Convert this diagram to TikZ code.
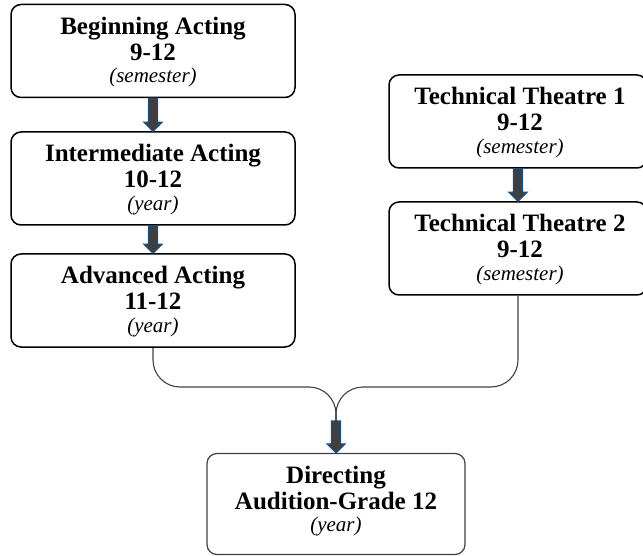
\documentclass[tikz,border=0pt]{standalone}
\usepackage{fontspec}
\setmainfont{Liberation Serif}
\usetikzlibrary{calc}
\definecolor{darkline}{HTML}{404040}
\definecolor{arrfill}{HTML}{3F3F3F}
\definecolor{arrline}{HTML}{1F4E79}
\tikzset{
  box/.style={draw=black, line width=1.5pt, rounded corners=10pt, minimum width=284pt, minimum height=93pt, inner sep=0pt, fill=white},
  lbl/.style={anchor=north, inner sep=0pt, align=center, font=\fontsize{25}{26}\selectfont\bfseries},
  link/.style={draw=darkline, line width=1.1pt, rounded corners=27pt},
  blockarr/.style={fill=arrfill, draw=arrline, line width=1.2pt, line join=miter},
}
\newcommand{\blockarrow}[2]{%
  \draw[blockarr] ($(#1)+(-4.5,0)$) -- ($(#2)+(-4.5,-9)$) -- ($(#2)+(-9,-9)$) -- (#2) -- ($(#2)+(9,-9)$) -- ($(#2)+(4.5,-9)$) -- ($(#1)+(4.5,0)$) -- cycle;}
\newcommand{\sub}[1]{{\mdseries\itshape\fontsize{21}{22}\selectfont #1}}
\begin{document}
\begin{tikzpicture}[x=1pt,y=-1pt]
\path[use as bounding box] (0,0) rectangle (643,556);
\clip (0,0) rectangle (643,556);
\node[box] (b1) at (153,51) {};
\node[box] (b2) at (153,178.5) {};
\node[box] (b3) at (153,300.5) {};
\node[box, minimum width=258pt] (b4) at (518,121.5) {};
\node[box, minimum width=258pt] (b5) at (518,248.5) {};
\node[box, draw=darkline, line width=1.2pt, minimum width=258pt, minimum height=101pt] (b6) at (336,504) {};

\node[lbl] (t1) at ($(b1.north)+(0,13)$) {Beginning Acting\\9-12\\[-3.5pt]\sub{(semester)}};
\node[lbl] (t2) at ($(b2.north)+(0,13)$) {Intermediate Acting\\10-12\\[-3.5pt]\sub{(year)}};
\node[lbl] (t3) at ($(b3.north)+(0,13)$) {Advanced Acting\\11-12\\[-3.5pt]\sub{(year)}};
\node[lbl] (t4) at ($(b4.north)+(2,13)$) {Technical Theatre 1\\9-12\\[-3.5pt]\sub{(semester)}};
\node[lbl] (t5) at ($(b5.north)+(2,13)$) {Technical Theatre 2\\9-12\\[-3.5pt]\sub{(semester)}};
\node[lbl] (t6) at ($(b6.north)+(0,13)$) {Directing\\Audition-Grade 12\\[-3.5pt]\sub{(year)}};

\coordinate (j) at (336,387);
\coordinate (m) at (336,421);
\draw[link] (b3.south) |- (j) -- (m);
\draw[link] (b5.south) |- (j) -- (m);

\blockarrow{b1.south}{b2.north}
\blockarrow{b2.south}{b3.north}
\blockarrow{b4.south}{b5.north}
\blockarrow{m}{b6.north}
\end{tikzpicture}
\end{document}
